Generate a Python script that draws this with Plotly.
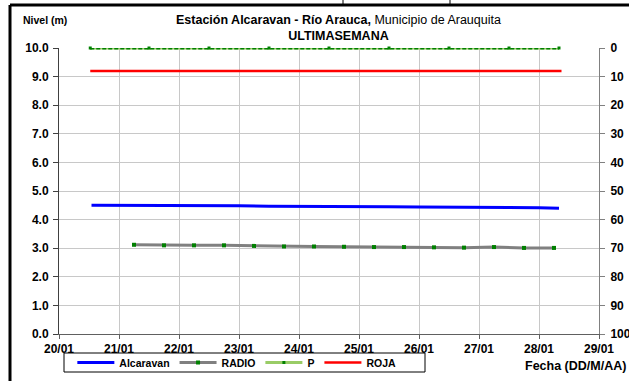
import plotly.graph_objects as go

# ---- data ----
alc_times = ["2013-01-20 13:00", "2013-01-21 00:00", "2013-01-21 12:00", "2013-01-22 00:00",
             "2013-01-22 12:00", "2013-01-23 00:00", "2013-01-23 12:00", "2013-01-24 00:00",
             "2013-01-24 12:00", "2013-01-25 00:00", "2013-01-25 12:00", "2013-01-26 00:00",
             "2013-01-26 12:00", "2013-01-27 00:00", "2013-01-27 12:00", "2013-01-28 00:00",
             "2013-01-28 08:00"]
alc_values = [4.50, 4.50, 4.49, 4.49, 4.48, 4.48, 4.47, 4.47, 4.46, 4.46, 4.45, 4.44,
              4.44, 4.43, 4.42, 4.41, 4.40]

radio_times = ["2013-01-21 06:00", "2013-01-21 18:00", "2013-01-22 06:00", "2013-01-22 18:00",
               "2013-01-23 06:00", "2013-01-23 18:00", "2013-01-24 06:00", "2013-01-24 18:00",
               "2013-01-25 06:00", "2013-01-25 18:00", "2013-01-26 06:00", "2013-01-26 18:00",
               "2013-01-27 06:00", "2013-01-27 18:00", "2013-01-28 06:00"]
radio_values = [3.12, 3.10, 3.10, 3.10, 3.08, 3.06, 3.06, 3.05, 3.04, 3.04, 3.03, 3.02,
                3.04, 3.01, 3.01]

p_times = ["2013-01-20 12:30", "2013-01-21 12:00", "2013-01-22 12:00", "2013-01-23 12:00",
           "2013-01-24 12:00", "2013-01-25 12:00", "2013-01-26 12:00", "2013-01-27 12:00",
           "2013-01-28 08:00"]
p_values = [0, 0, 0, 0, 0, 0, 0, 0, 0]

roja_times = ["2013-01-20 12:30", "2013-01-28 09:00"]
roja_values = [9.2, 9.2]

x_range = ["2013-01-20", "2013-01-29"]

# ---- geometry helpers (plot area in pixels) ----
L, R, T, B = 59, 599, 48, 334
W, H = 629, 381
def px(x):
    return (x - L) / (R - L)
def py(y):
    return (B - y) / (B - T)

FONT = "Liberation Sans, Arial, sans-serif"

fig = go.Figure()
fig.add_trace(go.Scatter(x=alc_times, y=alc_values, name="Alcaravan", mode="lines",
                         line=dict(color="#0000ff", width=3)))
fig.add_trace(go.Scatter(x=radio_times, y=radio_values, name="RADIO", mode="lines+markers",
                         line=dict(color="#808080", width=3),
                         marker=dict(color="#008000", size=4, symbol="square")))
fig.add_trace(go.Scatter(x=p_times, y=p_values, name="P", mode="lines+markers", yaxis="y2",
                         line=dict(color="#99cc66", width=3),
                         marker=dict(color="#008000", size=3, symbol="square"),
                         cliponaxis=False))
fig.add_trace(go.Scatter(x=p_times, y=p_values, showlegend=False, mode="lines", yaxis="y2",
                         line=dict(color="#008000", width=3, dash="4px,2px"),
                         cliponaxis=False, hoverinfo="skip"))
fig.add_trace(go.Scatter(x=roja_times, y=roja_values, name="ROJA", mode="lines",
                         line=dict(color="#ff0000", width=2.5)))

tickfont = dict(family=FONT, size=12, color="#000000", weight="bold")

fig.update_layout(
    width=W, height=H,
    margin=dict(l=L, r=W - R, t=T, b=H - B, autoexpand=False),
    paper_bgcolor="white", plot_bgcolor="white",
    showlegend=True,
    xaxis=dict(range=x_range, type="date", dtick=86400000, tickformat="%d/%m",
               tickfont=tickfont, showgrid=True, gridcolor="#c8c8c8", gridwidth=1,
               showline=True, linecolor="#606060", linewidth=1, automargin=False,
               ticks="outside", ticklen=4, tickcolor="#606060", zeroline=False),
    yaxis=dict(range=[0, 10], dtick=1, tickformat=".1f", tickfont=tickfont,
               showgrid=True, gridcolor="#c8c8c8", gridwidth=1, automargin=False,
               showline=True, linecolor="#404040", linewidth=1, ticklabelstandoff=2,
               ticks="outside", ticklen=5, tickcolor="#404040", zeroline=False),
    yaxis2=dict(range=[100, 0], dtick=10, overlaying="y", side="right", tickfont=tickfont,
                showgrid=False, showline=True, linecolor="#808080", linewidth=1, automargin=False,
                ticklabelstandoff=3,
                ticks="outside", ticklen=5, tickcolor="#808080", zeroline=False),
    legend=dict(orientation="h", x=px(54), y=py(348), xanchor="left", yanchor="top",
                borderwidth=0, bgcolor="rgba(0,0,0,0)",
                font=dict(family=FONT, size=10.5, color="#000000", weight="bold"),
                title=dict(text="&nbsp;&nbsp;&nbsp;", side="left",
                           font=dict(family=FONT, size=10)),
                itemwidth=37, tracegroupgap=0),
    font=dict(family=FONT, color="#000000"),
)

fig.add_annotation(xref="paper", yref="paper", x=px(338), y=py(11), xanchor="center", yanchor="top",
                   text="<b>Estación Alcaravan - Río Arauca,</b> Municipio de Arauquita<br><b>ULTIMASEMANA</b>",
                   showarrow=False, font=dict(family=FONT, size=12.5, color="#000000"), align="center")
fig.add_annotation(xref="paper", yref="paper", x=px(21), y=py(20), xanchor="left", yanchor="middle",
                   text="<b>Nivel (m)</b>", showarrow=False,
                   font=dict(family=FONT, size=10.5, color="#000000"))
fig.add_annotation(xref="paper", yref="paper", x=px(523), y=py(366), xanchor="left", yanchor="middle",
                   text="<b>Fecha (DD/M/AA)</b>", showarrow=False,
                   font=dict(family=FONT, size=12.5, color="#000000"))

# legend box
fig.add_shape(type="rect", xref="paper", yref="paper", x0=px(64), x1=px(425), y0=py(372), y1=py(353),
              line=dict(color="#000000", width=1), fillcolor="rgba(0,0,0,0)", layer="below")
# outer frame (left and top edges visible)
fig.add_shape(type="line", xref="paper", yref="paper", x0=px(10), x1=px(10), y0=py(H), y1=py(5),
              line=dict(color="#000000", width=3))
fig.add_shape(type="line", xref="paper", yref="paper", x0=px(10), x1=px(W), y0=py(5), y1=py(5),
              line=dict(color="#000000", width=3))
for mx in (343, 450):
    fig.add_shape(type="line", xref="paper", yref="paper", x0=px(mx), x1=px(mx), y0=py(0), y1=py(5),
                  line=dict(color="#000000", width=1))

fig.write_html("out.html", config={"displayModeBar": False},
               post_script="document.body.style.margin='0px';")
